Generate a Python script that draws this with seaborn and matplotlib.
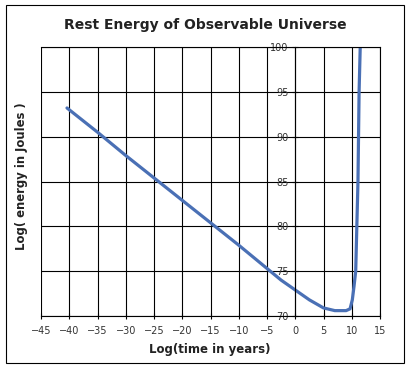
import numpy as np
import pandas as pd
import matplotlib
matplotlib.use('Agg')
import matplotlib.pyplot as plt
import seaborn as sns
from matplotlib.patches import Rectangle

# values
log_time = [-40.4, -35, -30, -25, -20, -15, -10, -5, -2.5, 0, 2.5, 5, 7, 9,
            9.7, 10.1, 10.4, 10.7, 10.9, 11.1, 11.2, 11.3, 11.5]
log_energy = [93.2, 90.5, 87.9, 85.4, 82.9, 80.4, 77.9, 75.3, 74.0, 72.9, 71.8, 70.9, 70.6, 70.6,
              70.8, 71.8, 73.3, 75.0, 80.0, 85.0, 90.0, 95.0, 100.0]
x_ticks = list(range(-45, 16, 5))
y_ticks = list(range(70, 101, 5))

df = pd.DataFrame({'LogTime': log_time, 'LogEnergy': log_energy})

sns.set_style('white')
plt.rcParams['font.family'] = ['DejaVu Sans']

fig = plt.figure(figsize=(4.11, 3.70), dpi=100)
ax = fig.add_axes([41 / 411, 1 - 316 / 370, 339 / 411, 269 / 370])

sns.lineplot(data=df, x='LogTime', y='LogEnergy', color='#4a70b5', linewidth=2.3, ax=ax)

ax.set_xlim(-45, 15)
ax.set_ylim(70, 100)
ax.set_xticks(x_ticks)
ax.set_yticks(y_ticks)
ax.grid(True, color='black', linewidth=0.8)

# y axis crosses at x = 0, like the spreadsheet chart
ax.spines['left'].set_position(('data', 0))
for side in ['left', 'bottom', 'top', 'right']:
    ax.spines[side].set_color('black')
    ax.spines[side].set_linewidth(0.8)

ax.tick_params(axis='both', direction='inout', length=4, width=0.8, color='black',
               labelsize=7, labelcolor='#333333', pad=3)
ax.tick_params(axis='x', bottom=True, pad=5)
ax.tick_params(axis='y', left=True)

ax.set_xlabel('')
ax.set_ylabel('')
fig.text(0.51, 1 - 349 / 370, 'Log(time in years)', ha='center', va='center',
         fontsize=8.5, fontweight='bold', color='#222222')
fig.text(22 / 411, 1 - 176 / 370, 'Log( energy in Joules )', ha='center', va='center',
         rotation=90, fontsize=8.4, fontweight='bold', color='#222222')
fig.text(0.5, 1 - 25 / 370, 'Rest Energy of Observable Universe', ha='center', va='center',
         fontsize=10, fontweight='bold', color='#222222')

# outer chart border
fig.patches.append(Rectangle((6 / 411, 1 - 363 / 370), 398 / 411, 358 / 370,
                             transform=fig.transFigure, fill=False,
                             edgecolor='black', linewidth=0.8))

fig.savefig('out.png', dpi=100)
